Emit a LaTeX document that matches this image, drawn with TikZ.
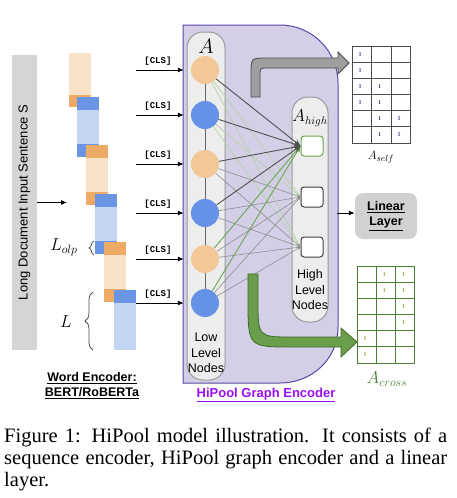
\documentclass[tikz,border=0pt]{standalone}
\usepackage{amsmath}
\usepackage{fontspec}
\setmainfont{Liberation Serif}
\setsansfont{Liberation Sans}
\setmonofont{Liberation Mono}
\usetikzlibrary{arrows.meta,decorations.pathreplacing}

\definecolor{barGray}{HTML}{D5D5D5}
\definecolor{tokOrL}{HTML}{F8E3C8}
\definecolor{tokOrD}{HTML}{EDAB66}
\definecolor{tokBlL}{HTML}{C4D5F4}
\definecolor{tokBlD}{HTML}{6A95E5}
\definecolor{nodeOr}{HTML}{F3C797}
\definecolor{nodeBl}{HTML}{6592E6}
\definecolor{encFill}{HTML}{D4CFE6}
\definecolor{encLine}{HTML}{5A46A6}
\definecolor{colFill}{HTML}{EDEDED}
\definecolor{colLine}{HTML}{9A9A9A}
\definecolor{edgeGreen}{HTML}{6AA84F}
\definecolor{edgeLight}{HTML}{B3D5A4}
\definecolor{edgeDark}{HTML}{505050}
\definecolor{edgeGray}{HTML}{8E8E8E}
\definecolor{hipool}{HTML}{9A10F5}
\definecolor{crossGreen}{HTML}{4A7F35}
\definecolor{arrGreen}{HTML}{6A9E4B}
\definecolor{arrGreenD}{HTML}{3D6B2A}
\definecolor{arrGray}{HTML}{9E9E9E}
\definecolor{oneSelf}{HTML}{3B3F8F}
\definecolor{oneCross}{HTML}{A3A83C}

\begin{document}
\begin{tikzpicture}[x=1pt,y=-1pt,>={Latex[length=6pt,width=5pt]},
	every node/.style={font=\sffamily},
	lownode/.style={circle,minimum size=28pt,inner sep=0pt},
	highnode/.style={draw=black!75,line width=1pt,fill=white,rounded corners=3pt,minimum width=22pt,minimum height=20pt,inner sep=0pt},
	column/.style={draw=colLine,line width=1pt,fill=colFill,rounded corners=16pt,inner sep=0pt},
	cls/.style={font=\fontsize{9}{10}\selectfont\ttfamily\bfseries},
	darkedge/.style={edgeDark,line width=0.9pt,-{Stealth[length=7pt,width=6pt]}},
	greenedge/.style={edgeGreen,line width=0.9pt,-{Stealth[length=6pt,width=5pt]}},
	lightedge/.style={edgeLight,line width=0.7pt,-{Stealth[length=3pt,width=3pt]}},
	grayedge/.style={edgeGray,line width=0.6pt,-{Stealth[length=3pt,width=3pt]}},
	one/.style={font=\fontsize{6}{6}\selectfont\bfseries,inner sep=0pt},
	bold/.style={font=\sffamily\bfseries\fontsize{12.5}{15}\selectfont,align=center},
	plain/.style={font=\sffamily\fontsize{12.5}{15.5}\selectfont,align=center}]
	\useasboundingbox (0,0) rectangle (456,498);

	% input sentence
	\node[fill=barGray,minimum width=295pt,minimum height=25pt,inner sep=0pt,rotate=90,
		font=\sffamily\fontsize{13}{13}\selectfont] (inp) at (24.5,202.5) {Long Document Input Sentence S};
	\coordinate (tokin) at (67,202.5);
	\draw[->,line width=1pt] (inp.south) -- (tokin);

	% token blocks
	\fill[tokOrL] (69,53) rectangle (91,95);
	\fill[tokOrD] (69,95) rectangle (91,107);
	\foreach \x/\t/\l/\d in {77/97/tokBlL/tokBlD,86/145/tokOrL/tokOrD,95/194/tokBlL/tokBlD,104/242/tokOrL/tokOrD}{
		\fill[\d] (\x,\t) rectangle ++(22,13);
		\fill[\l] (\x,{\t+13}) rectangle ++(22,34);
		\fill[\d] (\x,{\t+47}) rectangle ++(22,13);
	}
	\fill[tokBlD] (114,290) rectangle (136,303);
	\fill[tokBlL] (114,303) rectangle (136,350);

	\node[font=\fontsize{17}{17}\selectfont] (lolp) at (64,247) {$L_{olp}$};
	\draw[decorate,decoration={brace,amplitude=5pt},line width=0.8pt,black!70] (94,255) -- (94,241);
	\node[font=\fontsize{18}{18}\selectfont] (len) at (66,322) {$L$};
	\draw[decorate,decoration={brace,amplitude=8pt},line width=0.8pt,black!70] (93,350) -- (93,292);

	\node[bold] (wenc) at (92,386) {\underline{Word Encoder:}\\\underline{BERT/RoBERTa}};

	% graph encoder
	\draw[fill=encFill,draw=encLine,line width=1pt] (183,25) -- (280,25) .. controls (312,25) and (338,51) .. (338,83)
		-- (338,327) .. controls (338,359) and (312,383) .. (280,383) -- (183,383) -- cycle;
	\node[font=\sffamily\bfseries\fontsize{13}{13}\selectfont,text=hipool] (henc) at (266,395) {\underline{HiPool Graph Encoder}};

	\node[column,minimum width=38pt,minimum height=348pt] (lowcol) at (206,206) {};
	\node[column,minimum width=36pt,minimum height=225pt] (highcol) at (310,209.5) {};
	\node[font=\fontsize{20}{20}\selectfont] (lowA) at (206,46) {$A$};
	\node[font=\fontsize{16}{16}\selectfont] (highA) at (310,118) {$A_{high}$};
	\node[plain] (lowtxt) at (206,353) {Low\\Level\\Nodes};
	\node[plain] (hightxt) at (310,290) {High\\Level\\Nodes};

	% low level nodes
	\foreach \i/\y/\c in {1/70/nodeOr,2/115/nodeBl,3/164/nodeOr,4/213/nodeBl,5/259/nodeOr,6/303/nodeBl}{
		\node[lownode,fill=\c] (low\i) at (205,\y) {};
		\coordinate (cls\i) at (136,\y);
		\draw[->,line width=1pt,shorten >=7pt] (cls\i) -- (low\i) node[pos=0.4,above=1pt,cls] {[CLS]};
	}
	\draw[black!60,line width=0.8pt] (low1) -- (low2);
	\draw[black!60,line width=0.8pt] (low2) -- (low3);
	\draw[black!60,line width=0.8pt] (low3) -- (low4);
	\draw[black!60,line width=0.8pt] (low4) -- (low5);
	\draw[black!60,line width=0.8pt] (low5) -- (low6);

	% high level nodes
	\node[highnode,draw=edgeGreen] (high1) at (312,146) {};
	\node[highnode] (high2) at (312,197) {};
	\node[highnode] (high3) at (312,247) {};

	% pooling edges
	\foreach \i in {1,2} \foreach \j in {2,3} \draw[lightedge] (low\i) -- (high\j.west);
	\foreach \i in {3,...,6} \foreach \j in {2,3} \draw[grayedge] (low\i) -- (high\j.west);
	\foreach \i in {5,6} \draw[greenedge] (low\i) -- (high1.west);
	\foreach \i in {1,...,4} \draw[darkedge] (low\i) -- (high1.west);

	% big arrows
	\draw[fill=arrGray,draw=black!70,line width=0.8pt] (251,97) -- (251,74) .. controls (251,58) .. (267,58) -- (338,58)
		-- (338,52) -- (349,63) -- (338,74) -- (338,68) -- (268,68) .. controls (260,68) .. (260,76) -- (260,97) -- cycle;
	\draw[fill=arrGreen,draw=arrGreenD,line width=0.8pt] (248,274) -- (248,300) .. controls (248,347) .. (292,347) -- (341,347)
		-- (341,357) -- (357,342) -- (341,328) -- (341,337) -- (292,337) .. controls (258,337) .. (258,300) -- (258,274) -- cycle;

	% A_self
	\foreach \c in {0,...,3} \draw[black!70,line width=1pt] ({352+19.5*\c},46) -- ({352+19.5*\c},143);
	\foreach \r in {0,...,6} \draw[black!70,line width=1pt] (352,{46+16.17*\r}) -- (410.5,{46+16.17*\r});
	\foreach \r/\c in {1/1,2/1,3/1,3/2,4/1,4/2,5/2,5/3,6/2,6/3}
		\node[one,text=oneSelf] (s\r\c) at ({352+19.5*(\c-1)+8},{46+16.17*(\r-0.5)}) {1};
	\node[font=\fontsize{13}{13}\selectfont] (selfA) at (381,157) {$A_{self}$};

	% linear layer
	\node[bold,fill=black!18,rounded corners=8pt,minimum width=62pt,minimum height=46pt,inner sep=0pt] (lin) at (386,216) {\underline{Linear}\\\underline{Layer}};
	\coordinate (encR) at (337,213);
	\draw[->,line width=1pt] (encR) -- (lin.west |- encR);

	% A_cross
	\foreach \c in {0,...,3} \draw[crossGreen,line width=1pt] ({357+19.33*\c},266) -- ({357+19.33*\c},363);
	\foreach \r in {0,...,6} \draw[crossGreen,line width=1pt] (357,{266+16.17*\r}) -- (415,{266+16.17*\r});
	\foreach \r/\c in {1/2,1/3,2/2,2/3,3/3,4/3,5/1,6/1}
		\node[one,text=oneCross] (x\r\c) at ({357+19.33*(\c-1)+8},{266+16.17*(\r-0.5)}) {1};
	\node[font=\fontsize{17}{17}\selectfont,text=crossGreen] (crossA) at (387,379) {$A_{cross}$};

	% caption
	\node[anchor=base west,inner sep=0pt,font=\rmfamily\fontsize{20.5}{22}\selectfont] (cap) at (4,442)
		{\parbox[t]{443pt}{Figure 1: HiPool model illustration. It consists of a sequence encoder, HiPool graph encoder and a linear layer.}};
\end{tikzpicture}
\end{document}
